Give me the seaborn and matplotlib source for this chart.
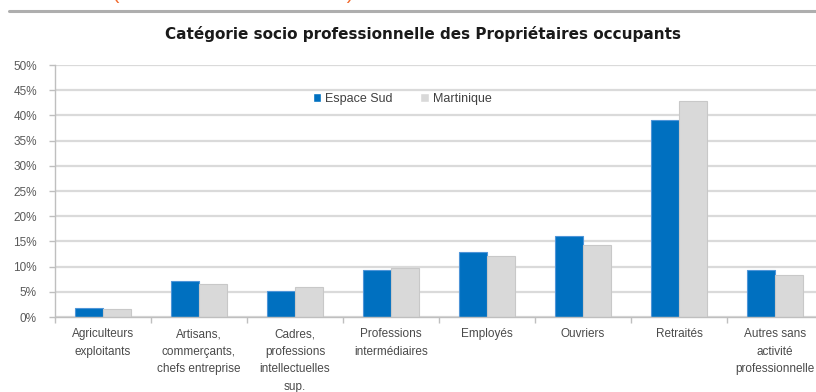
import matplotlib
matplotlib.use("Agg")
import matplotlib.pyplot as plt
import seaborn as sns
import pandas as pd
from matplotlib.ticker import PercentFormatter, FixedLocator

categories = [
    "Agriculteurs\nexploitants",
    "Artisans,\ncommerçants,\nchefs entreprise",
    "Cadres,\nprofessions\nintellectuelles\nsup.",
    "Professions\nintermédiaires",
    "Employés",
    "Ouvriers",
    "Retraités",
    "Autres sans\nactivité\nprofessionnelle",
]
espace_sud = [0.017, 0.071, 0.051, 0.093, 0.128, 0.161, 0.391, 0.093]
martinique = [0.016, 0.065, 0.060, 0.097, 0.122, 0.143, 0.429, 0.083]
series = ["Espace Sud", "Martinique"]
y_ticks = [0, 0.05, 0.10, 0.15, 0.20, 0.25, 0.30, 0.35, 0.40, 0.45, 0.50]

df = pd.DataFrame({
    "cat": categories * 2,
    "val": espace_sud + martinique,
    "zone": [series[0]] * len(categories) + [series[1]] * len(categories),
})

sns.set_theme(style="white")
plt.rcParams["font.family"] = ["Liberation Sans", "DejaVu Sans"]

fig = plt.figure(figsize=(8.16, 3.92), dpi=100)
fig.patch.set_facecolor("white")

# heading band above the chart (runs past the top edge of the page)
fig.text(0.012, 392 + 1, "Références (source : FILOCOM 2013)", transform=None,
         color="#F26A2E", fontsize=15, va="baseline", ha="left")
fig.add_artist(plt.Line2D([9 / 816, 1.0], [381 / 392, 381 / 392],
                          transform=fig.transFigure, color="#AEAEAE", lw=2.2))

ax = fig.add_axes([55 / 816, 75 / 392, 768 / 816, 252 / 392])

palette = {"Espace Sud": "#0070C0", "Martinique": "#D9D9D9"}
sns.barplot(data=df, x="cat", y="val", hue="zone", order=categories,
            hue_order=series, palette=palette, width=0.58, gap=0,
            saturation=1, ax=ax, legend=True)
for patch, ec in zip(ax.patches, ["#4F95D8"] * 8 + ["#C8C8C8"] * 8):
    patch.set_edgecolor(ec)
    patch.set_linewidth(0.8)

ax.set_ylim(0, 0.5)
ax.set_xlim(-0.5, len(categories) - 0.5)
ax.set_yticks(y_ticks)
ax.yaxis.set_major_formatter(PercentFormatter(1.0, decimals=0))
ax.grid(axis="y", color="#DADADA", lw=1.6)
ax.set_axisbelow(True)

for side in ["top", "right"]:
    ax.spines[side].set_visible(False)
ax.spines["left"].set_color("#BFBFBF")
ax.spines["bottom"].set_color("#BFBFBF")
ax.spines["left"].set_linewidth(1.0)
ax.spines["bottom"].set_linewidth(1.0)

ax.set_xlabel("")
ax.set_ylabel("")
ax.tick_params(axis="y", which="major", left=True, length=4, width=1,
               color="#BFBFBF", labelsize=8.5, labelcolor="#5A5A5A", pad=9)
ax.tick_params(axis="x", which="major", bottom=False, labelsize=8.5,
               labelcolor="#4A4A4A", pad=2)
ax.xaxis.set_minor_locator(FixedLocator([i + 0.5 for i in range(-1, len(categories))]))
ax.tick_params(axis="x", which="minor", bottom=True, length=4, width=1,
               color="#BFBFBF")
for lbl in ax.get_xticklabels():
    lbl.set_linespacing(1.62)

ax.set_title("Catégorie socio professionnelle des Propriétaires occupants",
             fontsize=11, fontweight="bold", color="#1A1A1A", pad=19,
             x=(423 - 55) / 768, family=["DejaVu Sans"])

leg = ax.legend(loc="upper center", bbox_to_anchor=((402 - 55) / 768, 0.935),
                ncol=2, frameon=False, fontsize=9, handlelength=0.7,
                handleheight=0.7, handletextpad=0.3, columnspacing=2.2)
for t in leg.get_texts():
    t.set_color("#404040")

fig.savefig("out.png", dpi=100, facecolor="white")
